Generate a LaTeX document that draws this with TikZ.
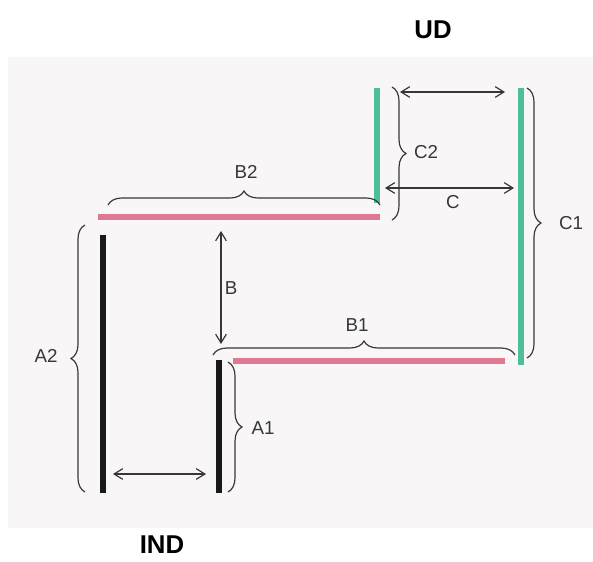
\documentclass[tikz,border=0pt]{standalone}
\usepackage{fontspec}
\setmainfont{Liberation Sans}
\usetikzlibrary{arrows.meta, positioning, decorations.pathreplacing, calc}

\definecolor{barpink}{RGB}{221,122,146}
\definecolor{bargreen}{RGB}{78,191,152}
\definecolor{paper}{RGB}{248,246,246}
\definecolor{ink}{RGB}{55,55,55}

\begin{document}
\begin{tikzpicture}[x=0.03cm, y=-0.03cm,
      bar/.style={line width=2mm},
      brc/.style={decorate, decoration={brace, amplitude=4.2mm}, draw=ink, line width=1pt},
      dim/.style={{Straight Barb[length=2.6mm, width=3.2mm]}-{Straight Barb[length=2.6mm, width=3.2mm]}, draw=ink, line width=1pt},
      lbl/.style={text=ink, font=\fontsize{16}{18}\selectfont},
      heading/.style={inner sep=0pt, font=\fontsize{22}{25}\selectfont\bfseries}]

      \useasboundingbox (0,0) rectangle (593,561);
      \fill[paper] (8,57) rectangle (593,528);

      % Bar ends
      \coordinate (indL1) at (103,235);  \coordinate (indL2) at (103,493);
      \coordinate (indR1) at (219,360);  \coordinate (indR2) at (219,493);
      \coordinate (topP1) at (98,217);   \coordinate (topP2) at (380,217);
      \coordinate (lowP1) at (233,361);  \coordinate (lowP2) at (505,361);
      \coordinate (udS1) at (377,88);    \coordinate (udS2) at (377,203);
      \coordinate (udL1) at (521,88);    \coordinate (udL2) at (521,365);

      % Bars
      \draw[bar, black!90] (indL1) -- (indL2);
      \draw[bar, black!90] (indR1) -- (indR2);
      \draw[bar, barpink] (topP1) -- (topP2);
      \draw[bar, barpink] (lowP1) -- (lowP2);
      \draw[bar, bargreen] (udS1) -- (udS2);
      \draw[bar, bargreen] (udL1) -- (udL2);

      % Braces
      \coordinate (a2s) at (85,492);   \coordinate (a2e) at (85,225);
      \coordinate (a1s) at (228,362);  \coordinate (a1e) at (228,492);
      \coordinate (b2s) at (108,205);  \coordinate (b2e) at (380,205);
      \coordinate (b1s) at (213,355);  \coordinate (b1e) at (515,355);
      \coordinate (c2s) at (392,87);   \coordinate (c2e) at (392,220);
      \coordinate (c1s) at (527,88);   \coordinate (c1e) at (527,358);
      \draw[brc] (a2s) -- (a2e);
      \draw[brc] (a1s) -- (a1e);
      \draw[brc] (b2s) -- (b2e);
      \draw[brc] (b1s) -- (b1e);
      \draw[brc] (c2s) -- (c2e);
      \draw[brc] (c1s) -- (c1e);

      % Distance arrows
      \coordinate (topL) at (400,92);  \coordinate (topR) at (505,92);
      \coordinate (cL) at (385,188);   \coordinate (cR) at (514,188);
      \coordinate (bT) at (221,231);   \coordinate (bB) at (221,344);
      \coordinate (botL) at (113,474); \coordinate (botR) at (206,474);
      \draw[dim] (topL) -- (topR);
      \draw[dim] (cL) -- (cR);
      \draw[dim] (bT) -- (bB);
      \draw[dim] (botL) -- (botR);

      % Labels
      \node[lbl] (labA2) at (46,356) {A2};
      \node[lbl] (labA1) at (263,428) {A1};
      \node[lbl] (labB) at (231,288) {B};
      \node[lbl] (labB2) at (246,172) {B2};
      \node[lbl] (labB1) at (357,325) {B1};
      \node[lbl] (labC2) at (426,152) {C2};
      \node[lbl] (labC) at (453,202) {C};
      \node[lbl] (labC1) at (571,223) {C1};
      \node[heading] (ud) at (433,30) {UD};
      \node[heading] (ind) at (162,545) {IND};
    \end{tikzpicture}
\end{document}
